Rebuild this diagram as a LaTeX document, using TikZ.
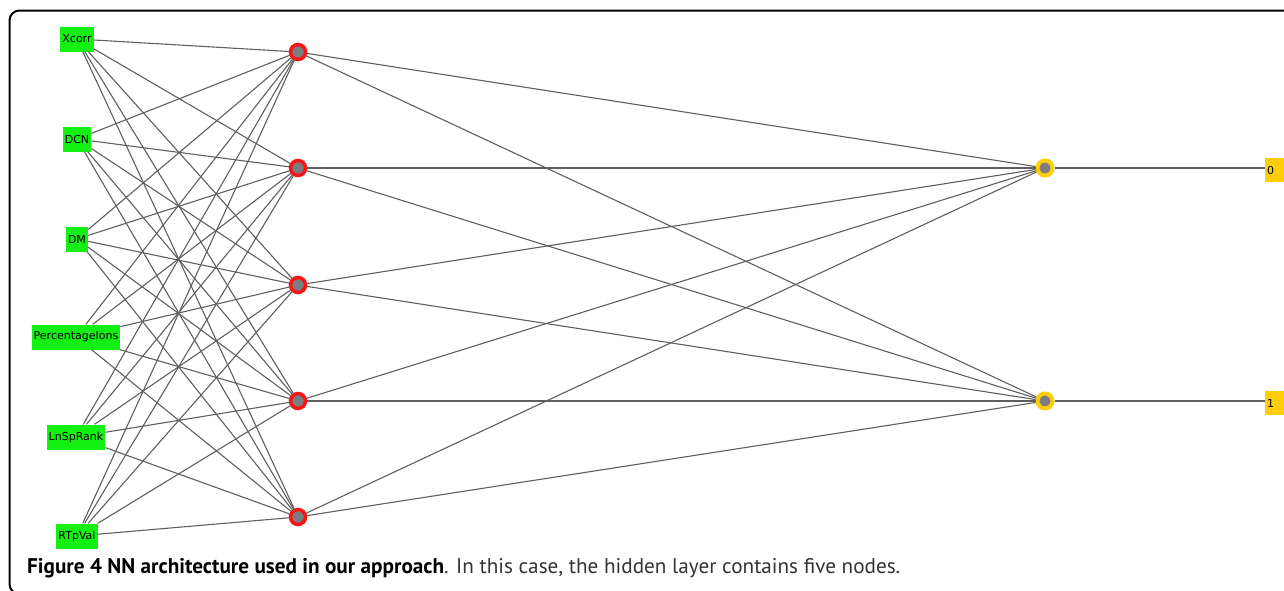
\documentclass[tikz,border=0pt]{standalone}
\usepackage{fontspec}
\setmainfont{PT Sans}
\newfontfamily\guifont{DejaVu Sans}
\usetikzlibrary{positioning}

\definecolor{ingreen}{RGB}{20,240,20}
\definecolor{hidred}{RGB}{250,20,20}
\definecolor{outyellow}{RGB}{255,206,10}
\definecolor{unitgray}{RGB}{125,125,128}
\definecolor{wiregray}{RGB}{95,95,95}

\begin{document}
\begin{tikzpicture}[x=1pt,y=-1pt,
    inbox/.style={fill=ingreen,inner xsep=2pt,minimum height=25pt,font=\guifont\fontsize{11}{12}\selectfont},
    hidunit/.style={circle,draw=hidred,fill=unitgray,line width=3.5pt,minimum size=15pt,inner sep=0pt},
    outunit/.style={circle,draw=outyellow,fill=unitgray,line width=4pt,minimum size=15pt,inner sep=0pt},
    outbox/.style={fill=outyellow,anchor=west,text width=16pt,inner xsep=2pt,align=left,minimum height=24pt,font=\guifont\fontsize{11}{12}\selectfont},
    wire/.style={draw=wiregray,line width=1.1pt}]
      \useasboundingbox (0,0) rectangle (1284,590);
      \clip (0,0) rectangle (1284,590);

      % Frame
      \draw[line width=2pt, rounded corners=10pt] (9.5,10.5) rectangle (1300,594);

      % Input nodes
      \node[inbox] (in1) at (77,39) {Xcorr};
      \node[inbox] (in2) at (77,139) {DCN};
      \node[inbox] (in3) at (77,239) {DM};
      \node[inbox] (in4) at (76,337) {PercentageIons};
      \node[inbox] (in5) at (76,437) {LnSpRank};
      \node[inbox] (in6) at (77,536) {RTpVal};

      % Hidden layer
      \node[hidunit] (h1) at (298,52) {};
      \node[hidunit] (h2) at (298,168) {};
      \node[hidunit] (h3) at (298,285) {};
      \node[hidunit] (h4) at (298,401) {};
      \node[hidunit] (h5) at (298,517) {};

      % Output layer
      \node[outunit] (o1) at (1045,168) {};
      \node[outunit] (o2) at (1045,401) {};
      \node[outbox] (c0) at (1265,170) {0};
      \node[outbox] (c1) at (1265,403) {1};

      % Connections
      \foreach \i in {1,...,6}
        \foreach \j in {1,...,5}
          \draw[wire] (in\i) -- (h\j);
      \foreach \j in {1,...,5}
        \foreach \k in {1,2}
          \draw[wire] (h\j) -- (o\k);
      \draw[wire] (o1) -- (o1 -| c0.west);
      \draw[wire] (o2) -- (o2 -| c1.west);

      % Caption
      \node[anchor=base west, inner sep=0pt, font=\fontsize{21.2}{24}\selectfont] (cap) at (27,573)
        {\textbf{Figure 4 NN architecture used in our approach}\textcolor{black!80}{. In this case, the hidden layer contains five nodes.}};
\end{tikzpicture}
\end{document}
